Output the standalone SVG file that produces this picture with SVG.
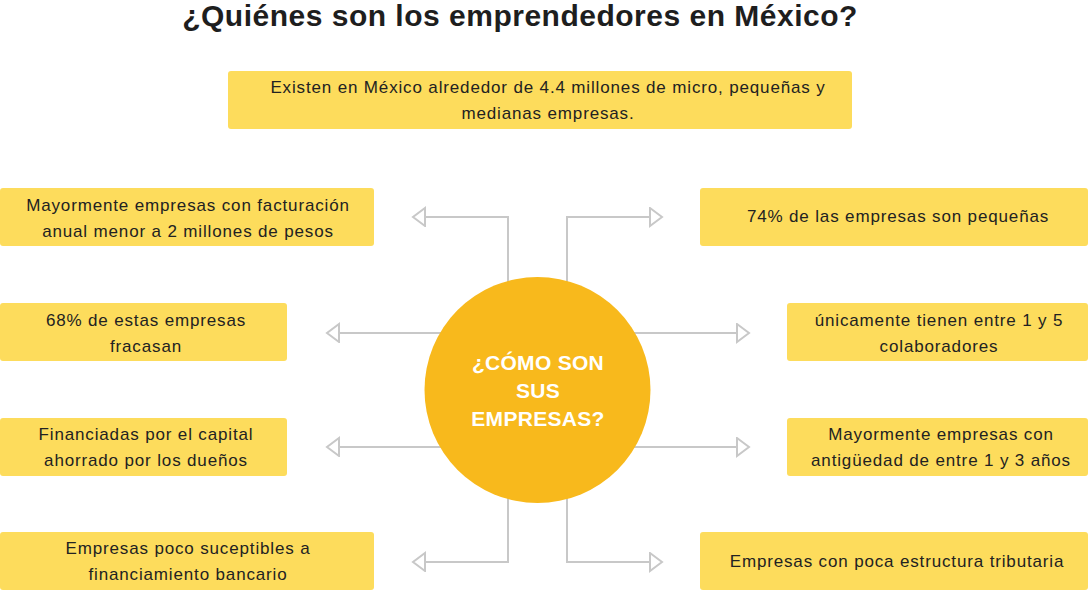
<svg xmlns="http://www.w3.org/2000/svg" width="1090" height="592" viewBox="0 0 1090 592">
<style>
.box{fill:#fddc5c;}
.t{font-family:"Liberation Sans",Arial,sans-serif;font-size:17px;fill:#222;text-anchor:middle;letter-spacing:0.85px;}
.title{font-family:"Liberation Sans",Arial,sans-serif;font-size:30px;font-weight:bold;fill:#1e1e1e;text-anchor:middle;letter-spacing:0.5px;}
.ct{font-family:"Liberation Sans",Arial,sans-serif;font-size:21px;font-weight:bold;fill:#fff;text-anchor:middle;letter-spacing:0.3px;}
.conn{fill:none;stroke:#c8c8c8;stroke-width:2;}
</style>
<defs>
<marker id="arr" markerUnits="userSpaceOnUse" markerWidth="16" markerHeight="22" refX="13" refY="10" orient="auto">
<path d="M1,1 L13,10 L1,19 Z" fill="#fff" stroke="#c8c8c8" stroke-width="2" stroke-linejoin="miter"/>
</marker>
</defs>
<rect width="1090" height="592" fill="#fff"/>
<text class="title" x="520" y="26">¿Quiénes son los emprendedores en México?</text>
<g id="connectors">
<path class="conn" d="M508,300 V217 H413" marker-end="url(#arr)"/>
<path class="conn" d="M460,333 H327" marker-end="url(#arr)"/>
<path class="conn" d="M460,447 H327" marker-end="url(#arr)"/>
<path class="conn" d="M508,480 V562 H413" marker-end="url(#arr)"/>
<path class="conn" d="M567,300 V217 H662" marker-end="url(#arr)"/>
<path class="conn" d="M615,333 H749" marker-end="url(#arr)"/>
<path class="conn" d="M615,447 H749" marker-end="url(#arr)"/>
<path class="conn" d="M567,480 V562 H662" marker-end="url(#arr)"/>
</g>
<g id="top">
<rect class="box" x="228" y="71" width="624" height="58" rx="3"/>
<text class="t" x="548" y="93">Existen en México alrededor de 4.4 millones de micro, pequeñas y</text>
<text class="t" x="548" y="119">medianas empresas.</text>
</g>
<g id="center">
<circle cx="537.5" cy="390" r="113" fill="#f8b91c"/>
<text class="ct" x="538" y="370">¿CÓMO SON</text>
<text class="ct" x="538" y="398">SUS</text>
<text class="ct" x="538" y="426">EMPRESAS?</text>
</g>
<g id="l1">
<rect class="box" x="0" y="188" width="374" height="58" rx="3"/>
<text class="t" x="188" y="211">Mayormente empresas con facturación</text>
<text class="t" x="188" y="237">anual menor a 2 millones de pesos</text>
</g>
<g id="l2">
<rect class="box" x="0" y="303" width="287" height="58" rx="3"/>
<text class="t" x="146" y="326">68% de estas empresas</text>
<text class="t" x="146" y="352">fracasan</text>
</g>
<g id="l3">
<rect class="box" x="0" y="418" width="287" height="58" rx="3"/>
<text class="t" x="146" y="440">Financiadas por el capital</text>
<text class="t" x="146" y="466">ahorrado por los dueños</text>
</g>
<g id="l4">
<rect class="box" x="0" y="532" width="374" height="58" rx="3"/>
<text class="t" x="188" y="554">Empresas poco suceptibles a</text>
<text class="t" x="188" y="580">financiamiento bancario</text>
</g>
<g id="r1">
<rect class="box" x="700" y="188" width="388" height="58" rx="3"/>
<text class="t" x="898" y="222">74% de las empresas son pequeñas</text>
</g>
<g id="r2">
<rect class="box" x="787" y="303" width="301" height="58" rx="3"/>
<text class="t" x="939" y="326">únicamente tienen entre 1 y 5</text>
<text class="t" x="939" y="352">colaboradores</text>
</g>
<g id="r3">
<rect class="box" x="787" y="418" width="301" height="58" rx="3"/>
<text class="t" x="941" y="440">Mayormente empresas con</text>
<text class="t" x="941" y="466">antigüedad de entre 1 y 3 años</text>
</g>
<g id="r4">
<rect class="box" x="700" y="532" width="388" height="58" rx="3"/>
<text class="t" x="897" y="567">Empresas con poca estructura tributaria</text>
</g>
</svg>
